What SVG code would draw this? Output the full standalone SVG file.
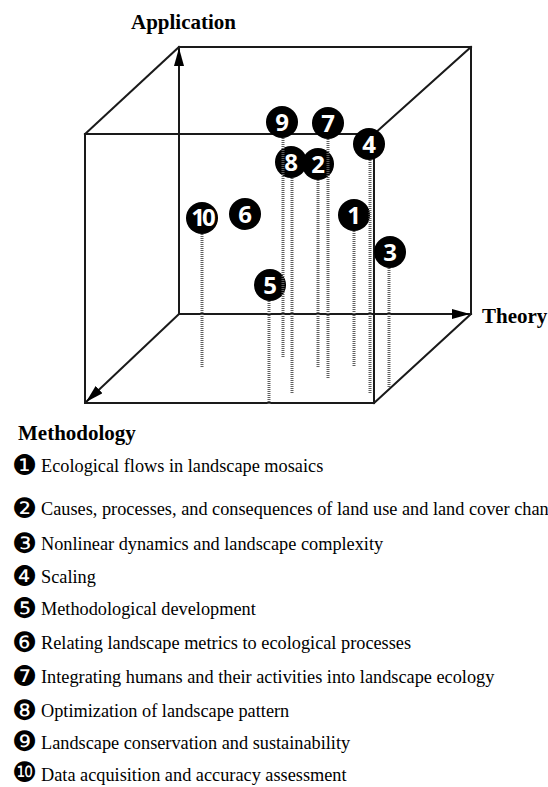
<svg xmlns="http://www.w3.org/2000/svg" width="548" height="787" viewBox="0 0 548 787">
<style>
.edge{stroke:#1a1a1a;stroke-width:2;fill:none;stroke-linecap:square}
.axis{stroke:#1a1a1a;stroke-width:2;fill:none}
.drop{stroke:#5e5e5e;stroke-width:3;stroke-dasharray:1 1;fill:none}
.dot{fill:#000}
.num{fill:#fff;font-family:"Open Sans","DejaVu Sans",sans-serif;font-weight:bold;font-size:24px;text-anchor:middle}
.title{font-family:"Liberation Serif","Times New Roman",serif;font-weight:bold;font-size:21px;fill:#000}
.leg{font-family:"Liberation Serif","Times New Roman",serif;font-size:18.3px;fill:#000}
.gly{font-family:"DejaVu Sans",sans-serif;font-size:28px;fill:#000}
</style>
<defs>
<marker id="ah" viewBox="0 0 18 10" refX="18" refY="5" markerWidth="18" markerHeight="10" markerUnits="userSpaceOnUse" orient="auto">
<path d="M0,0 L18,5 L0,10 Z" fill="#000"/>
</marker>
</defs>
<rect width="548" height="787" fill="#fff"/>
<g id="cube">
<line class="edge" x1="179" y1="47" x2="471" y2="47"/>
<line class="edge" x1="471" y1="47" x2="471" y2="314"/>
<line class="edge" x1="179" y1="47" x2="85" y2="134"/>
<line class="edge" x1="471" y1="47" x2="374" y2="134"/>
<line class="edge" x1="471" y1="314" x2="374" y2="403"/>
<rect class="edge" x="85" y="134" width="289" height="269"/>
</g>
<g id="connectors">
<line class="axis" x1="179" y1="314" x2="179" y2="48" marker-end="url(#ah)"/>
<line class="axis" x1="179" y1="314" x2="470" y2="314" marker-end="url(#ah)"/>
<line class="axis" x1="179" y1="314" x2="86" y2="402" marker-end="url(#ah)"/>
</g>
<g id="axis-labels">
<text class="title" x="131" y="29">Application</text>
<text class="title" x="482" y="323">Theory</text>
<text class="title" x="18" y="440">Methodology</text>
</g>
<g id="topic-1"><circle class="dot" cx="354" cy="215" r="16"/><text class="num" x="354" y="223.5">1</text></g>
<g id="topic-2"><circle class="dot" cx="318" cy="164" r="16"/><text class="num" x="318" y="172.5">2</text></g>
<g id="topic-3"><circle class="dot" cx="390" cy="252" r="16"/><text class="num" x="390" y="260.5">3</text></g>
<g id="topic-4"><circle class="dot" cx="369" cy="144" r="16"/><text class="num" x="369" y="152.5">4</text></g>
<g id="topic-5"><circle class="dot" cx="270" cy="285" r="16"/><text class="num" x="270" y="293.5">5</text></g>
<g id="topic-6"><circle class="dot" cx="245" cy="214" r="16"/><text class="num" x="245" y="222.5">6</text></g>
<g id="topic-7"><circle class="dot" cx="328" cy="123" r="16"/><text class="num" x="328" y="131.5">7</text></g>
<g id="topic-8"><circle class="dot" cx="291" cy="162" r="16"/><text class="num" x="291" y="170.5">8</text></g>
<g id="topic-9"><circle class="dot" cx="282" cy="122" r="16"/><text class="num" x="282" y="130.5">9</text></g>
<g id="topic-10"><circle class="dot" cx="202" cy="218" r="16"/><text class="num" x="202" y="226" font-size="21" letter-spacing="-3">10</text></g>
<g id="drop-lines">
<line class="drop" x1="202" y1="234" x2="202" y2="367"/>
<line class="drop" x1="283" y1="138" x2="283" y2="358"/>
<line class="drop" x1="292" y1="178" x2="292" y2="394"/>
<line class="drop" x1="318" y1="180" x2="318" y2="367"/>
<line class="drop" x1="328" y1="139" x2="328" y2="379"/>
<line class="drop" x1="354" y1="231" x2="354" y2="367"/>
<line class="drop" x1="370" y1="160" x2="370" y2="394"/>
<line class="drop" x1="389" y1="268" x2="389" y2="387"/>
<line class="drop" x1="269" y1="301" x2="269" y2="404"/>
</g>
<g id="legend">
<text class="gly" x="12" y="475">❶</text><text class="leg" x="41" y="472">Ecological flows in landscape mosaics</text>
<text class="gly" x="12" y="518">❷</text><text class="leg" x="41" y="515">Causes, processes, and consequences of land use and land cover change</text>
<text class="gly" x="12" y="553">❸</text><text class="leg" x="41" y="550">Nonlinear dynamics and landscape complexity</text>
<text class="gly" x="12" y="586">❹</text><text class="leg" x="41" y="583">Scaling</text>
<text class="gly" x="12" y="618">❺</text><text class="leg" x="41" y="615">Methodological development</text>
<text class="gly" x="12" y="652">❻</text><text class="leg" x="41" y="649">Relating landscape metrics to ecological processes</text>
<text class="gly" x="12" y="686">❼</text><text class="leg" x="41" y="683">Integrating humans and their activities into landscape ecology</text>
<text class="gly" x="12" y="720">❽</text><text class="leg" x="41" y="717">Optimization of landscape pattern</text>
<text class="gly" x="12" y="751">❾</text><text class="leg" x="41" y="749">Landscape conservation and sustainability</text>
<text class="gly" x="12" y="782">❿</text><text class="leg" x="41" y="781">Data acquisition and accuracy assessment</text>
</g>
</svg>
